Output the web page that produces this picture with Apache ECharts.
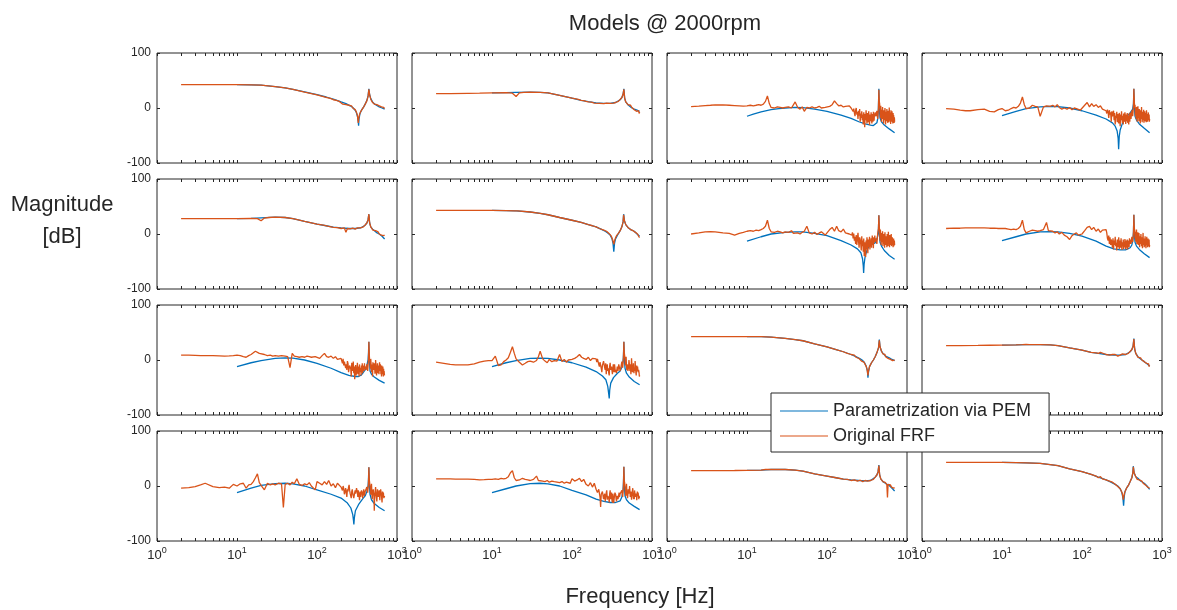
<!DOCTYPE html>
<html>
<head>
<meta charset="utf-8">
<title>Models @ 2000rpm</title>
<script src="https://cdn.jsdelivr.net/npm/echarts@6/dist/echarts.min.js"></script>
<style>
html, body { margin: 0; padding: 0; background: #fff; }
#chart { width: 1177px; height: 610px; }
</style>
</head>
<body>
<div id="chart"></div>
<script>
// tick values (log frequency axis and magnitude axis)
const xTicks = [1, 2, 3, 4, 5, 6, 7, 8, 9, 10, 20, 30, 40, 50, 60, 70, 80, 90,
  100, 200, 300, 400, 500, 600, 700, 800, 900, 1000]
const xLabelTicks = [1, 10, 100, 1000]
const seriesNames = ['Parametrization via PEM', 'Original FRF']

// frequency grid of the noisy FRF measurements [Hz]
const fNoisy = [2, 2.5, 3, 3.5, 4, 5, 6, 7, 8, 9,
  10, 11, 12, 13, 14, 15, 16, 17, 18, 19, 20,
  22, 24, 26, 28, 30, 33, 36, 38, 40,
  43, 46, 49, 52, 56, 60, 65, 70, 75, 80, 85, 90, 95, 100,
  108, 116, 124, 132, 140, 150, 160, 170, 180, 190, 200,
  204, 208, 212, 216, 220, 224, 228, 232, 236, 240,
  244, 248, 252, 256, 260, 264, 268, 272, 276, 280,
  284, 288, 292, 296, 300, 304, 308, 312, 316, 320,
  324, 328, 332, 336, 340, 344, 348, 352, 356, 360,
  364, 368, 372, 376, 380, 384, 388, 392, 396, 400,
  410, 420, 430, 440, 445, 450,
  455, 460, 465, 470, 475, 480, 485, 490, 495, 500,
  505, 510, 515, 520, 525, 530, 535, 540, 545, 550,
  555, 560, 565, 570, 575, 580, 585, 590, 595, 600,
  605, 610, 615, 620, 625, 630, 635, 640, 645, 650,
  655, 660, 665, 670, 675, 680, 685, 690, 695, 700]

// ---- row 1 ----
const pem11 = [[10,42.5],[15,42],[20,41.5],[30,39],[40,36.5],[50,34],[70,29.5],[100,24.5],[130,20],[160,16],[200,11],[230,8],[260,4],[280,1],[300,-4],[310,-8],[320,-15],[328,-25],[331,-32],[335,-20],[345,-10],[360,-4],[380,1],[400,7],[420,14],[435,22],[445,35],[455,24],[470,17],[500,10],[540,6],[600,2],[650,0],[700,-2]]
const frf11 = [[2,42.5],[3,42.5],[5,42.5],[7,42.5],[10,42.5],[15,42],[20,41.5],[30,39],[40,36.5],[50,34],[70,29],[100,24],[130,19.5],[150,17],[160,15],[175,14],[190,12],[200,11],[210,7],[220,10],[230,6],[240,8],[250,5],[260,3],[270,4],[280,0],[290,-2],[300,-3],[310,-7],[320,-13],[328,-27],[333,-18],[340,-12],[350,-7],[360,-4],[380,1],[400,7],[420,13],[435,21],[445,34],[455,24],[470,16],[480,14],[490,11],[500,9],[510,11],[520,7],[530,8],[540,5],[560,6],[580,3],[600,4],[620,1],[640,2],[660,-1],[680,1],[700,-1]]
const pem12 = [[10,27.5],[15,28],[20,28.5],[30,29],[40,28.5],[50,27.5],[70,23],[100,18],[130,14],[160,11.5],[200,9.5],[250,8.5],[300,8.5],[350,10],[400,15],[420,19],[435,25],[445,35],[455,18],[470,11],[500,6],[550,1],[600,-2],[650,-4],[700,-6]]
const frf12 = [[2,26],[3,26.3],[5,26.7],[7,27],[10,27.5],[15,28],[18,27],[19,24],[20,21],[21,24],[22,27.5],[25,28.5],[30,29],[40,28.5],[50,27.5],[70,23],[100,18],[120,15.5],[130,14],[140,13.5],[150,12],[160,11],[175,10.5],[190,9],[200,9.5],[220,8.5],[250,8],[270,9],[300,8.5],[330,9],[350,10],[380,12],[400,15],[420,19],[435,25],[445,34],[455,18],[470,11],[490,8],[500,6],[520,4],[540,5],[560,1],[580,2],[600,-3],[620,-1],[640,-6],[660,-4],[670,-9],[680,-5],[690,-10],[700,-7]]
const pem13 = [[10,-15],[12,-11],[15,-7],[20,-3],[25,-1],[30,0],[40,1],[50,0.5],[70,-2],[100,-6],[150,-13],[200,-19],[250,-25],[300,-29],[350,-31],[380,-32],[400,-31],[420,-27],[430,-20],[438,-5],[445,35],[450,0],[460,-18],[480,-25],[520,-31],[600,-38],[700,-45]]
const n13 = [2.5, 3.5, 4.5, 5, 5.5, 5.5, 5, 4.5, 4, 3.5,
  4, 5, 4, 5, 6, 5, 7, 12, 22, 8, 1,
  0, 2, 1, 0, 1, 2, 0, 3, 11,
  1, -2, 2, -6, 1, 0, 2, 0, 1, 3, 0, -2, 1, 0,
  3, 6, 13, 8, 4, 5, 2, 3, 1, 4, 0,
  -3, 2, -6, -1, -9, -15, -4, 0, -12, -7,
  -20, -5, -14, -2, -25, -10, -18, -6, -22, -12,
  -30, -8, -16, -35, -11, -22, -4, -19, -28, -9,
  -14, -26, -6, -20, -31, -12, -17, -24, -8, -21,
  -28, -11, -16, -25, -7, -19, -23, -10, -15, -8,
  -15, -5, -20, 0, 33, 12,
  8, -6, -18, 4, -12, -25, -3, -15, 2, -20,
  -9, -28, -4, -14, -22, 0, -11, -30, -7, -17,
  -24, -2, -13, -20, -27, -5, -16, -10, -26, 1,
  -18, -8, -23, -14, -29, -4, -19, -11, -25, -6,
  -21, -15, -28, -9, -24, -13, -20, -27, -17, -25]
const pem14 = [[10,-14],[15,-6],[20,-1],[30,2],[40,3],[50,2.5],[70,0],[100,-5],[150,-13],[200,-20],[240,-27],[260,-33],[275,-42],[283,-55],[287,-75],[292,-52],[300,-40],[320,-28],[350,-18],[400,-9],[430,-2],[440,8],[445,35],[450,5],[460,-15],[480,-22],[520,-29],[600,-37],[700,-45]]
const n14 = [-1, -2, -4, -5, -5, -3, -2, -6, -7, -3,
  -1, -5, -4, -1, 1, 0, 3, 9, 20, 6, -1,
  0, 5, 3, 2, -15, 2, 4, 6, 3,
  5, 2, 6, 1, -2, 0, -2, 1, -3, 0, -1, 2, -4, -2,
  5, 10, 2, 8, 3, 6, 1, 4, -2, 0, -5,
  -10, -3, -7, -18, -4, -12, -8, -25, -6, -15,
  -12, -5, -22, -9, -30, -14, -18, -7, -26, -11,
  -20, -28, -9, -16, -33, -12, -22, -6, -18, -27,
  -14, -30, -10, -21, -25, -8, -17, -29, -12, -24,
  -19, -9, -27, -14, -22, -30, -10, -18, -25, -8,
  -20, -4, -15, 2, 35, 15,
  0, 6, -14, -5, -20, 2, -12, -25, -6, 3,
  -18, -10, -24, -2, -15, -9, -28, -4, -20, -13,
  2, -16, -26, -7, -19, -12, -22, -3, -27, -10,
  -17, -6, -24, -14, -20, -9, -26, -4, -18, -23,
  -11, -25, -15, -20, -8, -22, -18, -12, -25, -20]

// ---- row 2 ----
const pem21 = [[10,28],[15,28.5],[20,29.5],[30,30.5],[40,30],[50,28],[70,23],[100,18],[130,15],[160,12.5],[200,11],[250,10],[300,10],[350,11],[400,16],[420,20],[435,26],[445,36],[455,20],[470,13],[500,8],[550,3],[600,0],[650,-4],[700,-9]]
const frf21 = [[2,28],[3,28],[5,28],[7,28],[10,28],[15,28.5],[18,28],[19,26],[20,24],[21,27],[22,29],[25,30],[30,30.5],[40,30],[50,28],[70,23],[100,18],[120,16],[140,14],[160,12],[180,11.5],[200,10],[220,11],[230,3],[240,10],[260,9.5],[280,10.5],[300,9],[320,11],[350,11],[380,13],[400,16],[420,20],[435,26],[445,36],[455,20],[470,13],[490,10],[500,7],[520,5],[540,6],[560,3],[580,4],[600,0],[620,1],[640,-2],[660,0],[680,-3],[700,-2]]
const pem22 = [[10,43],[15,42.5],[20,42],[30,40],[40,37.5],[50,35],[70,30],[100,25],[130,21],[160,17],[200,13],[230,9],[260,5],[280,2],[300,-2],[315,-8],[325,-16],[333,-32],[340,-17],[350,-9],[370,-2],[400,6],[420,13],[435,22],[442,36],[452,24],[470,17],[500,12],[540,8],[600,5],[650,0],[700,-4]]
const frf22 = [[2,43],[3,43],[5,43],[7,43],[10,43],[15,42.5],[19,42],[20,40],[21,42],[30,40],[40,37.5],[50,35],[70,30],[100,25],[130,21],[160,17],[180,15],[200,13],[220,10],[230,9],[250,7],[260,4],[270,5],[280,2],[290,1],[300,-1],[310,-4],[320,-9],[328,-15],[333,-19],[340,-12],[350,-7],[360,-3],[380,1],[400,6],[420,13],[435,22],[442,35],[452,24],[470,17],[490,14],[500,12],[520,10],[540,8],[560,7],[580,6],[600,4],[620,3],[640,1],[660,0],[680,-2],[690,-6],[700,-5]]
const pem23 = [[10,-13],[15,-5],[20,0],[30,3],[40,4],[50,4],[70,1],[100,-3],[150,-12],[200,-20],[240,-27],[265,-34],[278,-45],[284,-58],[287,-71],[291,-55],[300,-40],[320,-27],[350,-20],[400,-16],[420,-10],[435,0],[440,10],[445,34],[450,5],[460,-15],[480,-22],[520,-30],[600,-39],[700,-46]]
const n23 = [0, 2, 4, 4.5, 4, 2, 1, -2, 1, 3,
  5, 6, 5, 7, 6, 8, 10, 14, 25, 10, 4,
  3, 5, 4, 2, 4, 3, 6, 1, 4,
  2, 0, 3, 5, 14, 2, 0, 3, -1, 2, 4, 1, -2, 2,
  8, 12, 5, 14, 6, 4, 9, 2, 5, 0, 3,
  -2, 3, -8, 1, -12, -5, -18, -2, -20, -8,
  2, -14, -25, -6, -10, -18, -30, -4, -22, -12,
  -32, -8, -40, -15, -22, -42, -12, -28, -6, -18,
  -35, -10, -24, -15, -5, -28, -12, -20, -8, -25,
  -14, -3, -20, -10, -26, -6, -16, -12, -3, -14,
  -8, -18, 0, 10, 34, 14,
  5, -12, 8, -4, -20, 2, -15, -8, 5, -22,
  -10, 0, -18, -6, -25, 3, -12, -20, -4, -14,
  -8, -24, 0, -16, -10, -22, 4, -12, -18, -6,
  -24, -2, -14, -20, -8, -16, 0, -22, -12, -18,
  -6, -20, -10, -24, -14, -8, -22, -16, -12, -20]
const pem24 = [[10,-12],[15,-5],[20,0],[30,4],[40,4.5],[50,4],[70,1],[100,-4],[150,-13],[200,-22],[250,-27],[300,-29],[350,-29],[400,-25],[420,-20],[435,-8],[440,5],[445,35],[450,2],[460,-15],[480,-22],[520,-28],[600,-36],[700,-43]]
const n24 = [10, 10.5, 10.5, 11, 11, 11, 11, 10.5, 10.5, 10,
  10, 10, 9, 8, 9, 8, 10, 14, 25, 8, 2,
  5, 7, 6, 5, 6, 8, 21, 6, 3,
  5, 2, 4, 0, 3, -2, -5, -10, -3, 0, 2, -2, 1, 0,
  6, 12, 14, 8, 12, 5, 9, 3, 7, 6, 8,
  2, -8, -12, -3, -18, -6, -20, -10, -15, -25,
  -8, -28, -12, -20, -5, -22, -16, -30, -10, -24,
  -14, -6, -27, -18, -12, -25, -8, -20, -29, -15,
  -22, -10, -27, -14, -24, -9, -20, -28, -12, -17,
  -25, -10, -28, -15, -20, -12, -24, -8, -18, -10,
  -18, -5, -15, 2, 35, 12,
  6, -8, 4, -14, -2, 8, -18, -6, -12, 3,
  -20, -8, 2, -14, -24, -4, -10, -18, 0, -12,
  -22, -6, -16, -26, -10, 2, -20, -14, -8, -24,
  -12, -18, -4, -22, -14, -26, -8, -16, -5, -20,
  -12, -24, -16, -8, -22, -14, -18, -10, -24, -20]

// ---- row 3 ----
const pem31 = [[10,-12],[15,-5],[20,-1],[30,3],[40,4],[50,3.5],[70,0],[100,-6],[150,-15],[200,-23],[250,-28],[300,-30],[330,-30],[360,-27],[400,-18],[420,-10],[435,0],[440,12],[445,33],[450,5],[460,-20],[480,-26],[520,-31],[600,-37],[700,-42]]
const n31 = [9, 9, 8.5, 8, 8, 8, 7.5, 7, 7.5, 8,
  9, 8, 6, 5, 8, 10, 13, 16, 19, 12, 9,
  10, 8, 9, 7, 8, 7, 8, 6, 7,
  6, -14, 12, 7, 6, 5, 6, 5, 7, 6, 5, 7, 6, 4,
  3, 8, 12, 6, 5, 7, 3, 6, 1, 4, 3,
  1, -6, 2, -10, -3, -4, -15, -8, -18, -2,
  -6, -22, -25, -10, -8, -16, -30, -5, -14, -20,
  -3, -24, -12, -35, -18, -9, -28, -22, -16, -5,
  -26, -18, -12, -30, -8, -22, -24, -14, -28, -10,
  -20, -6, -24, -14, -18, -10, -20, -6, -16, -12,
  -18, -8, -20, 0, 33, 10,
  0, -5, -16, 2, 5, -22, -12, -8, -30, -4,
  -2, -18, -15, -6, -10, -25, -20, 0, -8, -20,
  -28, -12, -16, -6, -24, -18, -10, -14, -26, -24,
  -4, -12, -20, -8, -16, -26, -14, -30, -10, -22,
  -18, -26, -12, -24, -30, -16, -28, -20, -26, -28]
const pem32 = [[10,-12],[15,-5],[20,-1],[30,3],[40,3.5],[50,3],[70,0],[100,-5],[150,-13],[200,-21],[240,-29],[265,-36],[280,-48],[288,-62],[292,-70],[296,-55],[305,-42],[330,-32],[370,-24],[400,-20],[420,-13],[435,-2],[440,10],[445,33],[450,5],[460,-15],[480,-24],[520,-31],[600,-39],[700,-45]]
const n32 = [-4, -6, -8, -9, -9, -9, -7, -4, -2, -1,
  -1, 7, -10, -9, -3, 0, 4, 14, 24, 12, 2,
  -4, -9, -6, -3, -2, -4, -1, 6, 16,
  2, -2, -5, 1, -3, -1, -2, 10, -3, 1, -4, 0, 2, 1,
  3, 6, 10, 5, 3, 1, 5, -1, 3, 0, 2,
  -4, 2, 1, -8, -12, -4, -6, -15, -22, -10,
  -10, -2, 0, -14, -18, -6, -26, -12, -8, -20,
  -15, -24, -28, -10, -5, -18, -20, -12, -12, -26,
  -25, -8, -18, -22, -8, -14, -22, -18, -15, -24,
  -26, -12, -10, -20, -20, -8, -6, -14, -16, -20,
  -12, -3, -14, 4, 33, 14,
  8, 2, -10, -4, 6, -12, -18, -8, -5, -20,
  -22, -12, 0, -6, -14, -20, -8, -10, -26, -14,
  3, -8, -16, -22, -20, -10, -6, -18, -24, -14,
  -12, -20, -2, -10, -18, -24, -28, -14, -10, -20,
  -20, -12, -14, -22, -25, -18, -16, -24, -30, -28]
const pem33 = [[10,42.5],[15,42.5],[20,41.5],[30,39.5],[40,37],[50,35],[70,29.5],[100,24],[130,19],[160,15],[200,10],[230,6],[260,2],[280,-1],[295,-5],[310,-12],[320,-20],[325,-32],[330,-22],[340,-12],[360,-5],[380,0],[400,6],[420,13],[440,22],[451,37],[460,24],[480,16],[500,12],[540,7],[600,4],[650,1],[700,-1]]
const frf33 = [[2,42.5],[3,42.5],[5,42.5],[7,42.5],[10,42.5],[15,42.5],[20,41.5],[30,39.5],[40,37],[50,35],[70,29.5],[100,24],[130,19],[160,15],[180,12],[200,10],[210,7],[220,9],[230,5],[240,7],[250,3],[260,2],[270,-2],[280,0],[290,-4],[300,-6],[310,-12],[318,-18],[325,-28],[330,-20],[340,-12],[360,-5],[380,0],[400,6],[420,13],[440,22],[451,36],[460,24],[480,16],[490,13],[500,11],[510,13],[520,8],[530,10],[540,6],[560,7],[580,3],[600,5],[620,1],[640,3],[660,-1],[680,2],[700,0]]
const pem34 = [[10,27],[15,27.5],[20,28],[30,28],[40,27.5],[50,26],[70,22],[100,18],[130,14],[160,12],[200,10],[250,9],[300,9],[350,10],[400,15],[420,19],[435,25],[445,39],[455,20],[470,12],[500,6],[550,1],[600,-3],[650,-7],[700,-11]]
const frf34 = [[2,26],[3,26.2],[5,26.5],[7,26.8],[10,27],[15,27.5],[18,28],[19,29.5],[20,28.5],[22,28],[30,28],[40,27.5],[50,26],[70,22],[100,18],[130,14],[150,13],[160,12],[170,14],[180,11],[200,10],[220,9],[230,7],[240,10],[250,8],[260,10],[280,7],[300,9],[320,11],[350,10],[380,12],[400,15],[420,19],[435,25],[445,38],[455,20],[470,12],[480,10],[500,5],[510,7],[520,3],[540,4],[560,0],[580,2],[600,-3],[620,-1],[640,-6],[650,-3],[660,-9],[680,-7],[690,-12],[700,-10]]

// ---- row 4 ----
const pem41 = [[10,-12],[15,-4],[20,1],[30,4.5],[40,5],[50,4],[70,0],[100,-7],[150,-15],[200,-22],[240,-31],[265,-40],[280,-52],[286,-63],[289,-70],[293,-58],[302,-45],[330,-34],[370,-24],[400,-18],[420,-10],[435,0],[440,12],[445,34],[450,5],[460,-15],[480,-25],[520,-32],[600,-39],[700,-45]]
const n41 = [-4, -3, -1, 2, 5, -1, -3, -2, -4, 3,
  0, 4, 5, -4, 2, 3, 8, 15, 22, 6, 1,
  -7, 5, 2, 4, 2, 5, 4, -39, 3,
  5, 2, 7, 4, 13, 3, 1, 4, 2, 6, 0, 2, -7, 8,
  5, 2, 8, 3, 10, 0, 4, -3, 5, 2, -2,
  -4, -8, 0, -5, -15, -10, -4, -12, -20, -6,
  -10, -2, 2, -8, -14, -18, -22, -10, -6, -14,
  -18, -22, -25, -12, -8, -14, -16, -4, -3, -12,
  -20, -8, -12, -18, -26, -14, -10, -20, -18, -8,
  -5, -12, -22, -16, -14, -6, -8, -18, -16, -10,
  -10, -2, -12, 4, 34, 12,
  6, 0, -8, -16, -4, 4, -12, -24, -16, -10,
  -6, -8, -18, -45, -20, -15, -8, -2, -12, -20,
  -24, -28, -14, -6, -10, -14, -20, -22, -12, -8,
  -18, -26, -16, -12, -6, -4, -14, -18, -24, -30,
  -20, -10, -16, -20, -12, -15, -22, -25, -20, -18]
const pem42 = [[10,-12],[15,-5],[20,0],[30,4.5],[40,5],[50,4],[70,0],[100,-8],[150,-16],[200,-24],[250,-28],[300,-30],[350,-30],[400,-27],[420,-20],[435,-6],[440,8],[445,35],[450,2],[460,-18],[480,-25],[520,-31],[600,-37],[700,-43]]
const n42 = [13, 13, 13, 12.5, 12.5, 12.5, 12, 11, 11.5, 12,
  12, 13, 12, 14, 13, 14, 17, 24, 28, 15, 10,
  11, 14, 12, 11, 10, 12, 18, 10, 8,
  9, 8, 10, 7, 9, 8, 7, 6, 8, 5, 7, 6, 5, 13,
  9, 11, 14, 8, 12, 3, 0, 6, -2, 5, -6,
  -8, -12, -14, -6, -4, -20, -38, -15, -18, -10,
  -10, -24, -22, -14, -28, -20, -12, -8, -25, -18,
  -16, -22, -30, -14, -8, -24, -20, -12, -26, -30,
  -14, -20, -31, -24, -18, -12, -10, -16, -24, -28,
  -28, -18, -15, -24, -22, -16, -12, -20, -18, -14,
  -15, -8, -20, 0, 35, 10,
  6, -3, -12, -18, -6, 4, -10, -12, -22, -16,
  -6, -14, -15, -8, 0, -10, -20, -14, -10, -18,
  -25, -20, -14, -8, -4, -12, -18, -24, -20, -24,
  -8, -12, -16, -20, -22, -14, -12, -18, -26, -20,
  -10, -16, -18, -12, -15, -20, -24, -18, -22, -22]
const pem43 = [[10,28.5],[15,29],[20,30],[30,30],[40,29],[50,27],[70,22],[100,18],[130,15],[160,12.5],[200,11],[250,10],[300,9.5],[350,10],[400,16],[420,20],[435,26],[445,38],[455,20],[470,13],[500,8],[550,4],[600,1],[650,-4],[700,-9]]
const frf43 = [[2,28],[3,28],[5,28],[7,28.2],[10,28.5],[15,29],[17,30],[18,32],[19,30],[20,30],[30,30],[40,29],[50,27],[70,22],[100,18],[130,15],[160,12.5],[180,12],[200,10],[220,11],[240,9],[260,10.5],[280,8],[300,10],[320,9],[350,10],[380,12],[400,16],[420,20],[435,26],[445,37],[455,20],[470,13],[490,10],[500,8],[520,5],[540,6],[560,2],[570,-21],[580,3],[600,1],[620,2],[640,-2],[660,-1],[680,-4],[700,-3]]
const pem44 = [[10,43],[15,42.5],[20,42],[30,41],[40,39],[50,37],[70,31],[100,26],[130,21],[160,16],[200,11],[230,7],[260,3],[280,0],[300,-5],[315,-12],[325,-22],[331,-36],[337,-20],[345,-10],[360,-4],[380,1],[400,8],[420,15],[432,24],[438,36],[448,24],[470,17],[500,14],[540,9],[600,5],[650,0],[700,-6]]
const frf44 = [[2,43],[3,43],[5,43],[7,43],[10,43],[15,42.5],[20,42],[30,41],[40,39],[50,37],[70,31],[100,26],[130,21],[150,18],[160,15],[170,17],[180,13],[200,11],[210,8],[220,9],[230,6],[240,7],[250,4],[260,3],[270,1],[280,-1],[290,-3],[300,-5],[310,-9],[320,-14],[328,-25],[333,-20],[340,-13],[350,-8],[360,-4],[380,1],[400,8],[420,15],[432,24],[438,35],[448,24],[470,17],[480,15],[490,12],[500,13],[510,10],[520,11],[540,8],[560,9],[580,5],[600,6],[620,2],[640,3],[660,-2],[680,0],[700,-4]]

function zip (f, v) {
  return f.map(function (x, i) { return [x, v[i]] })
}

const panels = [
  [pem11, frf11], [pem12, frf12], [pem13, zip(fNoisy, n13)], [pem14, zip(fNoisy, n14)],
  [pem21, frf21], [pem22, frf22], [pem23, zip(fNoisy, n23)], [pem24, zip(fNoisy, n24)],
  [pem31, zip(fNoisy, n31)], [pem32, zip(fNoisy, n32)], [pem33, frf33], [pem34, frf34],
  [pem41, zip(fNoisy, n41)], [pem42, zip(fNoisy, n42)], [pem43, frf43], [pem44, frf44]
]

const FONT = '"Liberation Sans", Arial, Helvetica, sans-serif'
const INK = '#262626'
const colors = ['#0072BD', '#D95319']
const lefts = [157, 412, 667, 922]
const tops = [53, 179, 305, 431]
const W = 240
const H = 110

let myChart = echarts.init(document.getElementById('chart'))

let grids = [], xAxes = [], yAxes = [], series = []
panels.forEach(function (p, i) {
  let row = Math.floor(i / 4), col = i % 4
  grids.push({
    left: lefts[col], top: tops[row], width: W, height: H,
    show: true, borderColor: INK, borderWidth: 1, backgroundColor: 'transparent'
  })
  // bottom and top frequency axes
  ;['bottom', 'top'].forEach(function (pos) {
    xAxes.push({
      type: 'log', logBase: 10, min: 1, max: 1000, gridIndex: i, position: pos,
      axisLine: { show: false, onZero: false },
      splitLine: { show: false },
      minorSplitLine: { show: false },
      axisTick: { show: true, inside: true, length: 3, customValues: xTicks, lineStyle: { color: INK, width: 1 } },
      axisLabel: {
        show: pos === 'bottom' && row === 3,
        customValues: xLabelTicks,
        margin: 5,
        color: INK,
        formatter: function (v) {
          return '{b|10}{s|' + Math.round(Math.log10(v)) + '}'
        },
        rich: {
          b: { fontSize: 13, fontFamily: FONT, color: INK, verticalAlign: 'bottom' },
          s: { fontSize: 9, fontFamily: FONT, color: INK, verticalAlign: 'bottom', padding: [0, 0, 7, 0] }
        }
      }
    })
  })
  // left and right magnitude axes
  ;['left', 'right'].forEach(function (pos) {
    yAxes.push({
      type: 'value', min: -100, max: 100, interval: 100, gridIndex: i, position: pos,
      axisLine: { show: false, onZero: false },
      splitLine: { show: false },
      axisTick: { show: true, inside: true, length: 3, lineStyle: { color: INK, width: 1 } },
      axisLabel: {
        show: pos === 'left' && col === 0,
        fontSize: 12, fontFamily: FONT, color: INK, margin: 6
      }
    })
  })
  p.forEach(function (data, k) {
    series.push({
      name: seriesNames[k],
      type: 'line',
      xAxisIndex: i * 2,
      yAxisIndex: i * 2,
      data: data,
      symbol: 'none',
      showSymbol: false,
      clip: true,
      z: 2 + k,
      lineStyle: { color: colors[k], width: 1.3 },
      itemStyle: { color: colors[k] },
      emphasis: { disabled: true }
    })
  })
})

let option = {
  backgroundColor: '#fff',
  animation: false,
  textStyle: { fontFamily: FONT },
  grid: grids,
  xAxis: xAxes,
  yAxis: yAxes,
  series: series,
  legend: {
    data: seriesNames,
    orient: 'vertical',
    left: 771,
    top: 393,
    icon: 'rect',
    itemWidth: 48,
    itemHeight: 1,
    itemGap: 5,
    padding: [8, 18, 6, 9],
    backgroundColor: '#fff',
    borderColor: INK,
    borderWidth: 1,
    borderRadius: 0,
    selectedMode: false,
    textStyle: { fontSize: 18, fontFamily: FONT, color: INK, lineHeight: 20 },
    z: 10
  },
  graphic: [
    {
      type: 'text', x: 665, y: 24,
      style: { text: 'Models @ 2000rpm', fill: INK, font: '22px ' + FONT, align: 'center', verticalAlign: 'middle', textAlign: 'center', textVerticalAlign: 'middle' }
    },
    {
      type: 'text', x: 62, y: 221,
      style: { text: 'Magnitude\n[dB]', fill: INK, font: '22px ' + FONT, lineHeight: 32, align: 'center', verticalAlign: 'middle', textAlign: 'center', textVerticalAlign: 'middle' }
    },
    {
      type: 'text', x: 640, y: 597,
      style: { text: 'Frequency [Hz]', fill: INK, font: '22px ' + FONT, align: 'center', verticalAlign: 'middle', textAlign: 'center', textVerticalAlign: 'middle' }
    }
  ]
}
myChart.setOption(option)
</script>
</body>
</html>
